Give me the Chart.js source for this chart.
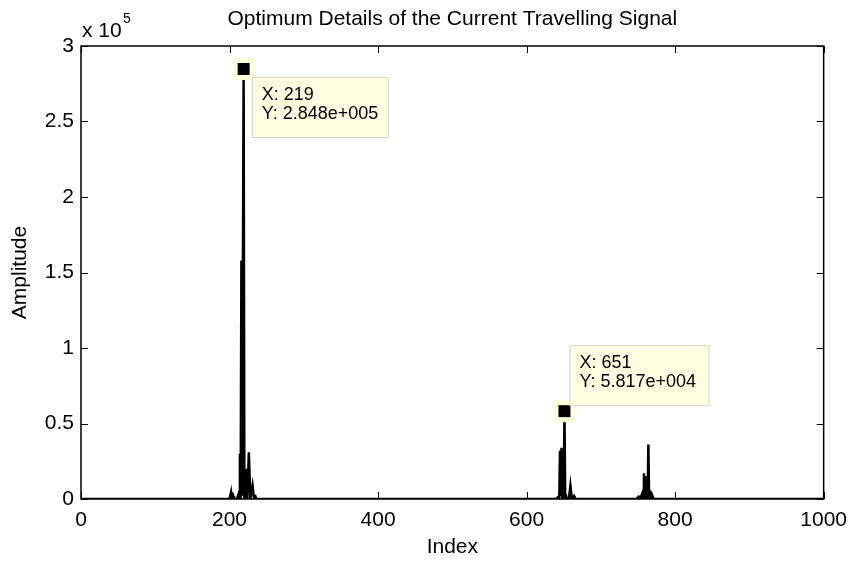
<!DOCTYPE html>
<html>
<head>
<meta charset="utf-8">
<script src="https://cdn.jsdelivr.net/npm/chart.js@4.4.1/dist/chart.umd.min.js"></script>
<style>
  html, body { margin: 0; padding: 0; background: #fff; }
  #wrap { width: 856px; height: 561px; }
</style>
</head>
<body>
<div id="wrap"><canvas id="signalChart"></canvas></div>
<script>
// signal samples (index, amplitude), zero elsewhere
const indexValues = [
  0, 200, 202, 203, 205, 206, 210, 212, 213, 214, 215, 216, 217, 218, 219, 220,
  221, 222, 223, 224, 226, 228, 229, 231, 233, 235, 236, 240,
  640, 642, 643, 644, 645, 646, 647, 648, 649, 650, 651, 652, 653, 654, 657, 659, 661, 664, 666,
  748, 751, 753, 756, 757, 758, 759, 760, 761, 762, 763, 764, 765, 767, 768, 769, 771,
  1000
];
const amplitudeValues = [
  0, 0, 4500, 0, 2000, 0, 0, 3000, 0, 30000, 0, 158000, 3000, 150000, 284800, 0,
  20000, 0, 8000, 0, 31000, 0, 3000, 9000, 0, 1500, 0, 0,
  0, 1000, 0, 0, 32000, 2000, 34000, 0, 4000, 0, 58170, 0, 3000, 0, 0, 9000, 0, 2000, 0,
  0, 1500, 0, 4000, 0, 17000, 0, 15000, 0, 3000, 0, 36000, 0, 3000, 0, 2500, 0,
  0
];

// data tips
const tipX = [219, 651];
const tipY = [284800, 58170];
const tipText = [["X: 219", "Y: 2.848e+005"], ["X: 651", "Y: 5.817e+004"]];

const xTicks = [0, 200, 400, 600, 800, 1000];
const yTicks = [0, 50000, 100000, 150000, 200000, 250000, 300000];

const TITLE = "Optimum Details of the Current Travelling Signal";
const FONT = "'Liberation Sans', Arial, Helvetica, sans-serif";

const points = indexValues.map((x, i) => ({ x: x, y: amplitudeValues[i] }));

const matlabAxes = {
  id: "matlabAxes",
  afterDatasetsDraw(chart) {
    const ctx = chart.ctx;
    const a = chart.chartArea;
    const xs = chart.scales.x;
    const ys = chart.scales.y;
    ctx.save();
    // box + inward ticks
    ctx.strokeStyle = "#000";
    ctx.lineWidth = 1;
    ctx.beginPath();
    xTicks.forEach(v => {
      const px = Math.round(xs.getPixelForValue(v)) + 0.5;
      ctx.moveTo(px, a.bottom); ctx.lineTo(px, a.bottom - 7);
      ctx.moveTo(px, a.top); ctx.lineTo(px, a.top + 7);
    });
    yTicks.forEach(v => {
      const py = Math.round(ys.getPixelForValue(v)) + 0.5;
      ctx.moveTo(a.left, py); ctx.lineTo(a.left + 7, py);
      ctx.moveTo(a.right, py); ctx.lineTo(a.right - 7, py);
    });
    ctx.stroke();
    ctx.lineWidth = 1.5;
    ctx.strokeRect(a.left, a.top, a.right - a.left, a.bottom - a.top);

    // title, centred over the axes box
    ctx.fillStyle = "#000";
    ctx.textAlign = "center";
    ctx.textBaseline = "middle";
    ctx.font = "21px " + FONT;
    ctx.fillText(TITLE, (a.left + a.right) / 2, 19);

    // exponent label
    ctx.textBaseline = "alphabetic";
    ctx.textAlign = "left";
    ctx.font = "21px " + FONT;
    ctx.fillText("x 10", 82, 37);
    ctx.font = "14px " + FONT;
    ctx.fillText("5", 123, 23);

    // data tips
    tipX.forEach((tx, i) => {
      const px = xs.getPixelForValue(tx);
      const py = ys.getPixelForValue(tipY[i]);
      ctx.fillStyle = "#ffffdc";
      ctx.fillRect(px - 11, py - 11, 22, 22);
      ctx.fillStyle = "#000";
      ctx.fillRect(px - 6, py - 6, 12, 12);

      const bw = i === 0 ? 136 : 139;
      const bh = 60;
      const bx = i === 0 ? px + 8 : px + 5;
      const by = i === 0 ? py + 8 : py - 66;
      ctx.fillStyle = "#ffffe1";
      ctx.fillRect(bx, by, bw, bh);
      ctx.strokeStyle = "#d4d4cc";
      ctx.lineWidth = 1;
      ctx.strokeRect(bx + 0.5, by + 0.5, bw, bh);
      ctx.fillStyle = "#000";
      ctx.font = "18px " + FONT;
      ctx.textBaseline = "middle";
      ctx.fillText(tipText[i][0], bx + 10, by + 18);
      ctx.fillText(tipText[i][1], bx + 10, by + 37);
    });
    ctx.restore();
  }
};

new Chart(document.getElementById("signalChart"), {
  type: "scatter",
  data: {
    datasets: [{
      label: "signal",
      data: points,
      showLine: true,
      borderColor: "#000",
      backgroundColor: "#000",
      borderWidth: 2.5,
      pointRadius: 0,
      tension: 0,
    }]
  },
  options: {
    responsive: true,
    maintainAspectRatio: false,
    animation: false,
    layout: { padding: { left: 0, right: 29, top: 46, bottom: 0 } },
    plugins: {
      legend: { display: false },
      tooltip: { enabled: false },
      title: { display: false },
    },
    scales: {
      x: {
        type: "linear",
        min: 0,
        max: 1000,
        afterBuildTicks: s => { s.ticks = xTicks.map(v => ({ value: v })); },
        afterFit: s => { s.height = 62; },
        grid: { display: false, drawTicks: false },
        border: { display: false },
        ticks: {
          color: "#000",
          padding: 9,
          maxRotation: 0,
          font: { family: FONT, size: 21 },
          callback: v => String(v),
        },
        title: {
          display: true,
          text: "Index",
          color: "#000",
          font: { family: FONT, size: 21 },
          padding: { top: 0, bottom: 1 },
        },
      },
      y: {
        min: 0,
        max: 300000,
        afterBuildTicks: s => { s.ticks = yTicks.map(v => ({ value: v })); },
        afterFit: s => { s.width = 81; },
        grid: { display: false, drawTicks: false },
        border: { display: false },
        ticks: {
          color: "#000",
          padding: 7,
          font: { family: FONT, size: 21 },
          callback: v => String(v / 100000),
        },
        title: {
          display: true,
          text: "Amplitude",
          color: "#000",
          font: { family: FONT, size: 21 },
          padding: { top: 8, bottom: 0 },
        },
      },
    },
  },
  plugins: [matlabAxes],
});
</script>
</body>
</html>
